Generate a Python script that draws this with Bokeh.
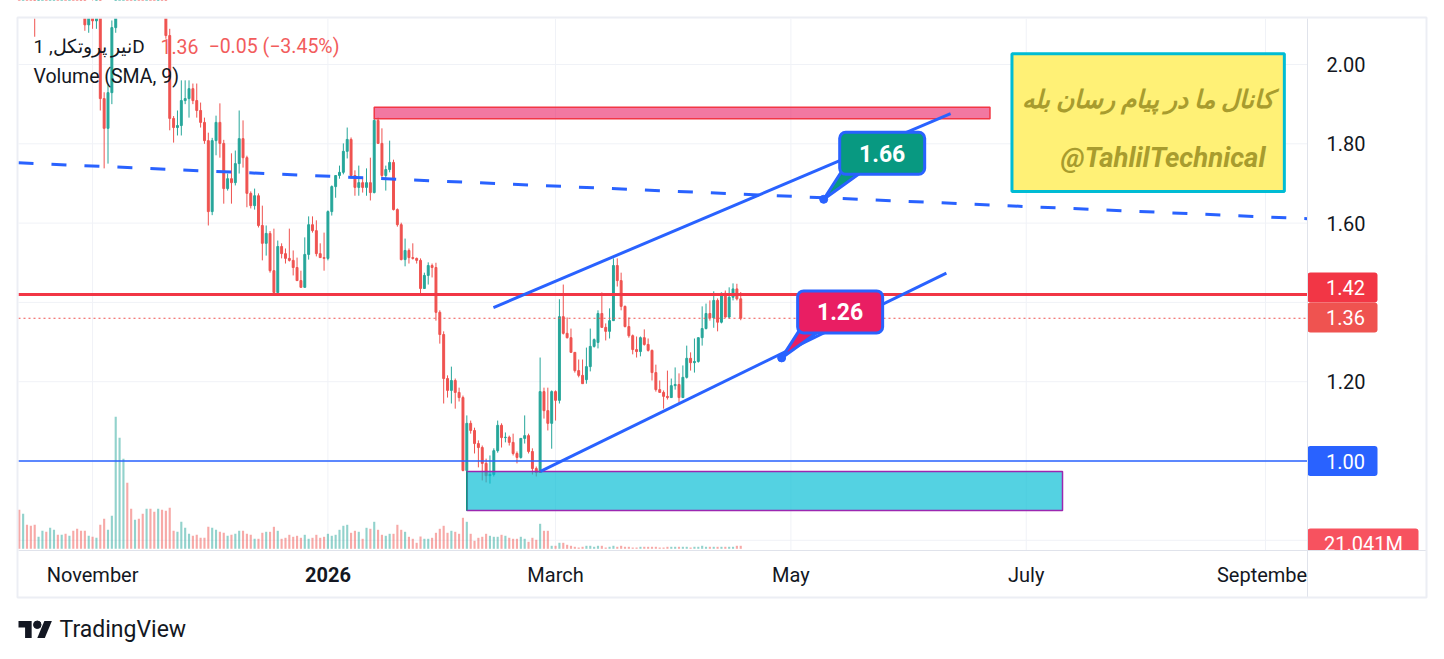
import pandas as pd
from bokeh.plotting import figure
from bokeh.core.properties import value
from bokeh.models import ColumnDataSource, Range1d, Label
from bokeh.embed import file_html
from bokeh.resources import INLINE

# ---------------------------------------------------------------- data
START_DATE = "2025-10-13"     # first daily candle
ORIGIN_DATE = "2026-01-01"    # x = days from this date

OPEN = [
    2.30, 2.27, 2.31, 2.28, 2.22, 2.16, 2.24, 2.32, 2.30, 2.42,
    2.51, 2.44, 2.47, 2.38, 2.41, 2.29, 2.25, 2.21, 2.10, 2.13,
    2.11, 2.17, 1.914, 1.839, 1.929, 2.093, 2.25, 2.38, 2.49, 2.40,
    2.34, 2.39, 2.31, 2.24, 2.30, 2.27, 2.21, 2.25, 2.19, 2.073,
    1.864, 1.841, 1.846, 1.909, 1.914, 1.939, 1.909, 1.884, 1.854, 1.808,
    1.629, 1.808, 1.854, 1.801, 1.687, 1.712, 1.702, 1.750, 1.813, 1.765,
    1.675, 1.644, 1.669, 1.594, 1.549, 1.574, 1.480, 1.425, 1.541, 1.523,
    1.511, 1.506, 1.488, 1.455, 1.438, 1.521, 1.596, 1.581, 1.523, 1.513,
    1.511, 1.629, 1.692, 1.720, 1.728, 1.781, 1.811, 1.720, 1.690, 1.702,
    1.690, 1.702, 1.677, 1.859, 1.801, 1.720, 1.735, 1.753, 1.634, 1.596,
    1.508, 1.531, 1.513, 1.511, 1.506, 1.435, 1.468, 1.493, 1.488, 1.375,
    1.319, 1.208, 1.178, 1.203, 1.173, 1.160, 0.976, 1.095, 1.077, 1.044,
    1.034, 0.994, 0.963, 0.966, 1.026, 1.090, 1.059, 1.060, 1.047, 1.019,
    1.009, 1.057, 1.064, 1.024, 0.981, 0.971, 1.175, 1.127, 1.095, 1.175,
    1.153, 1.364, 1.322, 1.311, 1.274, 1.228, 1.216, 1.205, 1.238, 1.289,
    1.299, 1.372, 1.337, 1.327, 1.354, 1.493, 1.455, 1.390, 1.339, 1.316,
    1.281, 1.276, 1.311, 1.294, 1.279, 1.223, 1.180, 1.173, 1.163, 1.160,
    1.190, 1.193, 1.160, 1.211, 1.259, 1.248, 1.251, 1.311, 1.334, 1.372,
    1.361, 1.405, 1.350, 1.423, 1.363, 1.413, 1.434, 1.409,
]
HIGH = [
    2.38, 2.33, 2.36, 2.32, 2.26, 2.27, 2.35, 2.40, 2.45, 2.55,
    2.58, 2.50, 2.52, 2.44, 2.46, 2.35, 2.31, 2.24, 2.16, 2.19,
    2.19, 2.22, 1.93, 1.95, 2.111, 2.30, 2.42, 2.55, 2.52, 2.46,
    2.43, 2.44, 2.36, 2.33, 2.38, 2.31, 2.28, 2.30, 2.24, 2.09,
    1.87, 1.884, 1.960, 1.960, 1.960, 1.952, 1.952, 1.904, 1.866, 1.828,
    1.815, 1.871, 1.902, 1.810, 1.725, 1.776, 1.783, 1.884, 1.859, 1.770,
    1.680, 1.687, 1.675, 1.644, 1.594, 1.580, 1.586, 1.556, 1.549, 1.536,
    1.586, 1.531, 1.513, 1.480, 1.564, 1.617, 1.617, 1.607, 1.549, 1.576,
    1.632, 1.695, 1.720, 1.745, 1.801, 1.841, 1.816, 1.733, 1.745, 1.715,
    1.738, 1.765, 1.864, 1.866, 1.839, 1.745, 1.808, 1.760, 1.637, 1.601,
    1.561, 1.536, 1.549, 1.513, 1.511, 1.475, 1.501, 1.498, 1.500, 1.380,
    1.327, 1.216, 1.238, 1.208, 1.185, 1.165, 1.115, 1.102, 1.084, 1.052,
    1.039, 1.006, 1.014, 1.032, 1.102, 1.095, 1.072, 1.064, 1.069, 1.024,
    1.057, 1.115, 1.069, 1.032, 0.986, 1.261, 1.185, 1.185, 1.178, 1.178,
    1.408, 1.445, 1.362, 1.334, 1.274, 1.256, 1.256, 1.286, 1.334, 1.309,
    1.380, 1.425, 1.347, 1.385, 1.511, 1.511, 1.475, 1.392, 1.362, 1.319,
    1.314, 1.314, 1.332, 1.309, 1.281, 1.243, 1.203, 1.178, 1.228, 1.208,
    1.236, 1.221, 1.241, 1.291, 1.274, 1.309, 1.311, 1.390, 1.397, 1.405,
    1.428, 1.410, 1.425, 1.430, 1.438, 1.448, 1.447, 1.426,
]
LOW = [
    2.24, 2.20, 2.25, 2.19, 2.07, 2.14, 2.22, 2.28, 2.29, 2.38,
    2.40, 2.36, 2.35, 2.30, 2.25, 2.20, 2.16, 2.085, 2.08, 2.09,
    2.09, 1.884, 1.738, 1.750, 1.90, 2.08, 2.20, 2.33, 2.36, 2.30,
    2.29, 2.28, 2.20, 2.19, 2.25, 2.17, 2.16, 2.17, 2.065, 1.834,
    1.803, 1.821, 1.821, 1.900, 1.866, 1.900, 1.866, 1.841, 1.800, 1.594,
    1.620, 1.771, 1.765, 1.649, 1.682, 1.649, 1.695, 1.725, 1.740, 1.640,
    1.637, 1.634, 1.589, 1.506, 1.518, 1.475, 1.422, 1.417, 1.511, 1.498,
    1.503, 1.468, 1.455, 1.438, 1.438, 1.508, 1.576, 1.516, 1.513, 1.480,
    1.506, 1.619, 1.664, 1.712, 1.723, 1.763, 1.712, 1.669, 1.669, 1.677,
    1.669, 1.657, 1.675, 1.801, 1.715, 1.682, 1.728, 1.632, 1.591, 1.506,
    1.491, 1.498, 1.508, 1.498, 1.417, 1.435, 1.445, 1.463, 1.354, 1.296,
    1.145, 1.160, 1.145, 1.132, 1.150, 0.974, 0.956, 1.069, 1.019, 0.984,
    0.951, 0.946, 0.943, 0.961, 1.021, 1.034, 1.047, 1.039, 1.014, 0.994,
    1.006, 1.044, 1.019, 0.966, 0.961, 0.971, 1.107, 1.077, 1.031, 1.102,
    1.145, 1.319, 1.309, 1.274, 1.223, 1.211, 1.195, 1.195, 1.226, 1.286,
    1.284, 1.337, 1.304, 1.309, 1.354, 1.440, 1.380, 1.337, 1.311, 1.269,
    1.261, 1.264, 1.291, 1.276, 1.203, 1.175, 1.173, 1.132, 1.155, 1.160,
    1.180, 1.145, 1.160, 1.208, 1.228, 1.223, 1.248, 1.291, 1.332, 1.354,
    1.336, 1.327, 1.347, 1.362, 1.359, 1.405, 1.405, 1.355,
]
CLOSE = [
    2.27, 2.31, 2.28, 2.22, 2.16, 2.24, 2.32, 2.30, 2.42, 2.51,
    2.44, 2.47, 2.38, 2.41, 2.29, 2.25, 2.21, 2.10, 2.13, 2.11,
    2.17, 1.914, 1.839, 1.929, 2.093, 2.25, 2.38, 2.49, 2.40, 2.34,
    2.39, 2.31, 2.24, 2.30, 2.27, 2.21, 2.25, 2.19, 2.073, 1.864,
    1.841, 1.846, 1.909, 1.914, 1.939, 1.909, 1.884, 1.854, 1.808, 1.629,
    1.808, 1.854, 1.801, 1.687, 1.712, 1.702, 1.750, 1.813, 1.765, 1.675,
    1.644, 1.669, 1.594, 1.549, 1.574, 1.480, 1.425, 1.541, 1.523, 1.511,
    1.506, 1.488, 1.455, 1.438, 1.521, 1.596, 1.581, 1.523, 1.513, 1.511,
    1.629, 1.692, 1.720, 1.728, 1.781, 1.811, 1.720, 1.690, 1.702, 1.690,
    1.702, 1.677, 1.859, 1.801, 1.720, 1.735, 1.753, 1.634, 1.596, 1.508,
    1.531, 1.513, 1.511, 1.506, 1.435, 1.468, 1.493, 1.488, 1.375, 1.319,
    1.208, 1.178, 1.203, 1.173, 1.160, 0.976, 1.095, 1.077, 1.044, 1.034,
    0.994, 0.963, 0.966, 1.026, 1.090, 1.059, 1.060, 1.047, 1.019, 1.009,
    1.057, 1.064, 1.024, 0.981, 0.971, 1.175, 1.127, 1.095, 1.175, 1.153,
    1.364, 1.322, 1.311, 1.274, 1.228, 1.216, 1.195, 1.238, 1.289, 1.306,
    1.372, 1.337, 1.327, 1.354, 1.493, 1.455, 1.390, 1.339, 1.316, 1.281,
    1.276, 1.311, 1.294, 1.279, 1.223, 1.180, 1.173, 1.163, 1.160, 1.190,
    1.193, 1.160, 1.211, 1.259, 1.248, 1.251, 1.311, 1.334, 1.372, 1.361,
    1.405, 1.350, 1.423, 1.363, 1.413, 1.434, 1.409, 1.360,
]
VOLUME_M = [
    273, 245, 168, 161, 168, 84, 126, 119, 147, 133,
    98, 98, 105, 91, 126, 140, 126, 126, 91, 84,
    77, 168, 210, 133, 231, 924, 777, 630, 462, 280,
    203, 210, 245, 280, 280, 259, 280, 273, 266, 287,
    126, 119, 189, 147, 105, 91, 98, 77, 77, 154,
    147, 133, 119, 112, 91, 98, 105, 126, 126, 105,
    98, 70, 70, 112, 119, 119, 154, 126, 70, 77,
    98, 84, 91, 77, 98, 70, 77, 98, 77, 84,
    105, 91, 98, 133, 161, 168, 112, 126, 119, 70,
    147, 140, 189, 133, 98, 91, 105, 105, 168, 133,
    119, 84, 70, 42, 86, 70, 70, 77, 112, 140,
    161, 112, 126, 119, 105, 217, 189, 105, 56, 77,
    84, 105, 91, 84, 84, 98, 91, 77, 70, 70,
    84, 70, 49, 77, 63, 175, 126, 126, 21, 21,
    42, 42, 28, 21, 14, 9, 14, 21, 21, 14,
    21, 21, 9, 14, 21, 14, 21, 14, 14, 9,
    9, 14, 14, 14, 14, 14, 9, 9, 14, 14,
    14, 14, 14, 14, 9, 14, 14, 21, 14, 14,
    14, 14, 14, 14, 14, 14, 21, 21.041,
]

MONTH_TICKS = ["2025-11-01", "2026-01-01", "2026-03-01", "2026-05-01", "2026-07-01", "2026-09-01"]
MONTH_LABELS = ["November", "2026", "March", "May", "July", "September"]
MONTH_STYLE = ["normal", "bold", "normal", "normal", "normal", "normal"]
GRID_PRICES = [0.8, 1.0, 1.2, 1.4, 1.6, 1.8, 2.0]
PRICE_LABELS = [1.2, 1.6, 1.8, 2.0]          # tick labels not hidden by badges

RESISTANCE = 1.42
SUPPORT = 1.00
CHANGE_TEXT = "−0.05 (−3.45%)"
SYMBOL_TEXT = "نیر پروتکل, 1D"
VOLUME_TEXT = "Volume (SMA, 9)"
LAST_VOLUME_TEXT = "21.041M"

# drawings (day offset from ORIGIN_DATE, price)
DASH_DAY, DASH_PRICE = [-80.2, 253.9], [1.752, 1.611]
CH_UP_DAY, CH_UP_PRICE = [42.9, 161.4], [1.387, 1.876]
CH_LO_DAY, CH_LO_PRICE = [55.1, 160.3], [0.974, 1.474]
CALLOUT_DAY = [128.5, 117.6]
CALLOUT_PRICE = [1.66, 1.26]
CALLOUT_TEXT = ["1.66", "1.26"]
PINK_DAY, PINK_PRICE = [12, 171.6], [1.863, 1.892]
CYAN_DAY, CYAN_PRICE = [36, 190.4], [0.875, 0.9735]
NOTE_DAY, NOTE_PRICE = [177.3, 247.9], [1.680, 2.027]
NOTE_TEXT = ["کانال ما در پیام رسان بله", "@TahlilTechnical"]
NOTE_TEXT_DAY = [245.3, 243.0]
NOTE_TEXT_PRICE = [1.912, 1.765]

# ---------------------------------------------------------------- layout constants
UP, DOWN = "#26a69a", "#ef5350"
BLUE = "#2962ff"
TEXT = "#131722"
GRID = "#f0f2f7"
SEP = "#e0e3eb"
FONT = "Roboto"

CANVAS_W, CANVAS_H = 1440, 655      # page area (the page template has no body margin)
PANE_L, PANE_T, PANE_R, PANE_B = 18, 18, 1307, 550   # price pane in page pixels
BOX_R, BOX_B = 1426, 597                             # chart box (incl. scales)
X_START, X_PLOT_END = -80.2, 253.9
Y_PLOT_START, Y_END = 0.7743, 2.116
PX_PER_DAY = (PANE_R - PANE_L) / (X_PLOT_END - X_START)
PX_PER_UNIT = (PANE_B - PANE_T) / (Y_END - Y_PLOT_START)


def gx(px):      # page x pixel -> day offset
    return X_START + (px - PANE_L) / PX_PER_DAY


def gy(py):      # page y pixel -> price
    return Y_PLOT_START + (PANE_B - py) / PX_PER_UNIT


VOL_PX = 7.0                        # millions per pixel in the volume overlay
VOL_BASE = 548.3                    # page y of volume baseline

origin = pd.Timestamp(ORIGIN_DATE)
days = pd.date_range(START_DATE, periods=len(OPEN), freq="D")
X = [(d - origin).days for d in days]
colors = [UP if c >= o else DOWN for o, c in zip(OPEN, CLOSE)]

src = ColumnDataSource(dict(
    x=X, open=OPEN, high=HIGH, low=LOW, close=CLOSE,
    top=[max(o, c) for o, c in zip(OPEN, CLOSE)],
    bottom=[min(o, c) for o, c in zip(OPEN, CLOSE)],
    vol=VOLUME_M, color=colors,
))

p = figure(width=CANVAS_W, height=CANVAS_H,
           x_range=Range1d(gx(0), gx(CANVAS_W)), y_range=Range1d(gy(CANVAS_H), gy(0)),
           x_axis_location=None, y_axis_location=None,
           toolbar_location=None, tools="", output_backend="svg",
           min_border=0, background_fill_color="white", border_fill_color="white")
p.outline_line_color = None
p.grid.visible = False
vol_bottom_px = CANVAS_H - VOL_BASE
p.extra_y_ranges = {"vol": Range1d(-vol_bottom_px * VOL_PX, (CANVAS_H - vol_bottom_px) * VOL_PX)}

tick_x = [(pd.Timestamp(t) - origin).days for t in MONTH_TICKS]

# grid
p.segment(x0=tick_x, x1=tick_x, y0=Y_PLOT_START, y1=Y_END, line_color=GRID, line_width=1)
p.segment(x0=X_START, x1=X_PLOT_END, y0=GRID_PRICES, y1=GRID_PRICES, line_color=GRID, line_width=1)

# volume
p.vbar(x="x", top="vol", bottom=0, width=0.55, source=src, y_range_name="vol",
       fill_color="color", fill_alpha=0.5, line_color=None)

# candles
p.segment(x0="x", y0="low", x1="x", y1="high", source=src, line_color="color", line_width=1)
p.vbar(x="x", top="top", bottom="bottom", width=0.5, source=src,
       fill_color="color", line_color="color", line_width=1)

# clip candles running above the pane
p.quad(left=gx(0), right=gx(CANVAS_W), bottom=Y_END, top=gy(0), fill_color="white", line_color=None)

# boxes
p.quad(left=PINK_DAY[0], right=PINK_DAY[1], bottom=PINK_PRICE[0], top=PINK_PRICE[1],
       fill_color="#e91e63", fill_alpha=0.6, line_color="#f23645", line_width=1.5)
p.quad(left=CYAN_DAY[0], right=CYAN_DAY[1], bottom=CYAN_PRICE[0], top=CYAN_PRICE[1],
       fill_color="#00bcd4", fill_alpha=0.67, line_color="#9c27b0", line_width=1.5)
p.segment(x0=CYAN_DAY[0], y0=CYAN_PRICE[0], x1=CYAN_DAY[0], y1=CYAN_PRICE[1],
          line_color="#089981", line_width=1.5)

# horizontal levels
p.segment(x0=X_START, x1=X_PLOT_END, y0=RESISTANCE, y1=RESISTANCE, line_color="#f23645", line_width=3)
p.segment(x0=X_START, x1=X_PLOT_END, y0=SUPPORT, y1=SUPPORT, line_color=BLUE, line_width=1.3)
p.segment(x0=X_START, x1=X_PLOT_END, y0=CLOSE[-1], y1=CLOSE[-1], line_color="#ef5350",
          line_width=1, line_dash="2 3")

# trend lines
p.line(DASH_DAY, DASH_PRICE, line_color=BLUE, line_width=3, line_dash="15 18")
p.line(CH_UP_DAY, CH_UP_PRICE, line_color=BLUE, line_width=3)
p.line(CH_LO_DAY, CH_LO_PRICE, line_color=BLUE, line_width=3)

# note box
p.quad(left=NOTE_DAY[0], right=NOTE_DAY[1], bottom=NOTE_PRICE[0], top=NOTE_PRICE[1],
       fill_color="#fff176", line_color="#00bcd4", line_width=3)
p.text(x=NOTE_TEXT_DAY, y=NOTE_TEXT_PRICE, text=NOTE_TEXT, text_align="right",
       text_baseline="middle", text_font=value(FONT), text_font_size=["25px", "27.5px"],
       text_font_style="bold italic", text_color="#a89c2e")

# callouts: pointer, dot, box, value
BOX_DX, BOX_DY, BOX_W, BOX_H = 58.5, 46, 85, 42
CALLOUT_FILL = ["#089981", "#e91e63"]
for d, pr, txt, fc in zip(CALLOUT_DAY, CALLOUT_PRICE, CALLOUT_TEXT, CALLOUT_FILL):
    xs = [d, d + 18 / PX_PER_DAY, d + 39 / PX_PER_DAY]
    ys = [pr, pr + 28 / PX_PER_UNIT, pr + 28 / PX_PER_UNIT]
    p.patch(xs, ys, fill_color=fc, line_color=BLUE, line_width=3, line_join="round")
    p.scatter([d], [pr], size=8, color=BLUE)
    cx, cy = d + BOX_DX / PX_PER_DAY, pr + BOX_DY / PX_PER_UNIT
    hw, hh = BOX_W / 2 / PX_PER_DAY, BOX_H / 2 / PX_PER_UNIT
    p.quad(left=cx - hw, right=cx + hw, bottom=cy - hh, top=cy + hh, border_radius=6,
           fill_color=fc, line_color=BLUE, line_width=3)
    p.text(x=[cx], y=[cy], text=[txt], text_align="center", text_baseline="middle",
           text_font=value(FONT), text_font_size="23px", text_font_style="bold",
           text_color="white")

# time scale labels
p.text(x=tick_x, y=gy(574), text=MONTH_LABELS,
       text_font_style=MONTH_STYLE, text_align="center", text_baseline="middle",
       text_font=value(FONT), text_font_size="20px", text_color=TEXT)

# price scale labels
p.text(x=gx(PANE_R + 19), y=PRICE_LABELS, text=[f"{v:.2f}" for v in PRICE_LABELS],
       text_align="left", text_baseline="middle", text_font=value(FONT),
       text_font_size="20px", text_color=TEXT)

# price-scale badges
BADGE_COLORS = ["#f23645", "#ef5350", BLUE, "#f7525f"]
badge_txt = [f"{RESISTANCE:.2f}", f"{CLOSE[-1]:.2f}", f"{SUPPORT:.2f}", LAST_VOLUME_TEXT]
badge_y = [gy(287), gy(317), SUPPORT, gy(543)]
badge_w = [70, 70, 70, 111]
half_h = 15 / PX_PER_UNIT
p.quad(left=X_PLOT_END, right=[gx(PANE_R + w) for w in badge_w],
       bottom=[y - half_h for y in badge_y], top=[y + half_h for y in badge_y],
       border_radius=3, fill_color=BADGE_COLORS, line_color=None)
p.text(x=[gx(PANE_R + 38), gx(PANE_R + 38), gx(PANE_R + 38), gx(PANE_R + 56)], y=badge_y,
       text=badge_txt, text_align="center", text_baseline="middle", text_font=value(FONT),
       text_font_size="20px", text_color="white")

# cover the time-scale / price-scale corner, then separators and chart border
p.quad(left=X_PLOT_END, right=gx(BOX_R), bottom=gy(BOX_B), top=Y_PLOT_START,
       fill_color="white", line_color=None)
p.quad(left=gx(BOX_R), right=gx(CANVAS_W), bottom=gy(CANVAS_H), top=gy(0),
       fill_color="white", line_color=None)
p.segment(x0=X_PLOT_END, x1=X_PLOT_END, y0=gy(BOX_B), y1=Y_END, line_color=SEP, line_width=1)
p.segment(x0=X_START, x1=gx(BOX_R), y0=Y_PLOT_START, y1=Y_PLOT_START, line_color=SEP, line_width=1)
p.quad(left=gx(PANE_L - 1), right=gx(BOX_R), bottom=gy(BOX_B), top=gy(PANE_T - 1),
       fill_color=None, line_color="#eceef4", line_width=2)

# legend texts
LEG = dict(text_baseline="middle", text_font=FONT, text_font_size="19.5px")
p.add_layout(Label(x=gx(33), y=gy(45.5), text=SYMBOL_TEXT, text_color=TEXT,
                   text_baseline="middle", text_font=FONT, text_font_size="19px"))
p.add_layout(Label(x=gx(160), y=gy(45.5), text=f"{CLOSE[-1]:.2f}", text_color="#f25c5c", **LEG))
p.add_layout(Label(x=gx(208), y=gy(45.5), text=CHANGE_TEXT, text_color="#f25c5c", **LEG))
p.add_layout(Label(x=gx(33), y=gy(75.5), text=VOLUME_TEXT, text_color=TEXT, **LEG))

# TradingView logo + wordmark
S, LX, LY = 0.94, 18, 620.5
t_shape = [(14, 22), (7, 22), (7, 11), (0, 11), (0, 4), (14, 4)]
slash = [(28, 22), (20, 22), (27.5, 4), (35.5, 4)]
for shp in (t_shape, slash):
    p.patch([gx(LX + u * S) for u, v in shp], [gy(LY + (v - 4) * S) for u, v in shp],
            fill_color=TEXT, line_color=None)
p.scatter([gx(LX + 20 * S)], [gy(LY + 4 * S)], size=8 * S, color=TEXT)
p.text(x=[gx(59)], y=[gy(629)], text=["TradingView"], text_align="left", text_baseline="middle",
       text_font=value(FONT), text_font_size="23px", text_color=TEXT)

open("out.html", "w").write(file_html(p, INLINE))
